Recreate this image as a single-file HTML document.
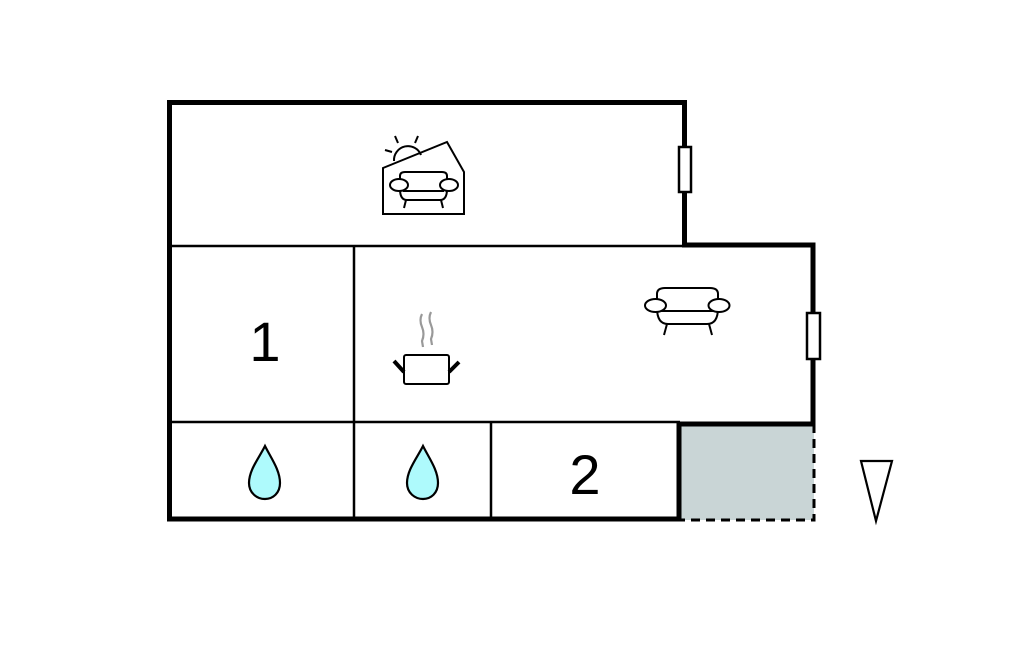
<!DOCTYPE html>
<html><head><meta charset="utf-8"><style>
html,body{margin:0;padding:0;background:#fff;}
svg{display:block;}
</style></head><body>
<svg width="1024" height="652" viewBox="0 0 1024 652" xmlns="http://www.w3.org/2000/svg">
<rect width="1024" height="652" fill="#fff"/>
<rect x="681" y="424" width="133" height="96" fill="#c9d5d6"/>
<path d="M814 424 V520 H681" fill="none" stroke="#000" stroke-width="3" stroke-dasharray="9,6"/>
<g stroke="#000" stroke-width="2.5" fill="none">
<line x1="169" y1="246" x2="684" y2="246"/>
<line x1="354" y1="246" x2="354" y2="519"/>
<line x1="169" y1="422" x2="680" y2="422"/>
<line x1="491" y1="422" x2="491" y2="519"/>
</g>
<path d="M169.5 519 V102.5 H684.5 V245 H813 V424 H679 V519 H167" fill="none" stroke="#000" stroke-width="5"/>
<line x1="679" y1="422" x2="679" y2="521.5" stroke="#000" stroke-width="5"/>
<line x1="167" y1="519" x2="681" y2="519" stroke="#000" stroke-width="5"/>
<rect x="679" y="147" width="12" height="45" fill="#fff" stroke="#000" stroke-width="2.5"/>
<rect x="807" y="313" width="13" height="46" fill="#fff" stroke="#000" stroke-width="2.5"/>
<text x="265" y="361" font-family="Liberation Sans, sans-serif" font-size="56" text-anchor="middle">1</text>
<text x="585" y="494" font-family="Liberation Sans, sans-serif" font-size="56" text-anchor="middle">2</text>
<g fill="#aefafc" stroke="#000" stroke-width="2.2">
<path d="M265 446 C259 458 249 470 249 483 C249 493 257 499 265 499 C273 499 280 493 280 483 C280 470 271 458 265 446 Z"/>
<path d="M423 446 C417 458 407 470 407 483 C407 493 415 499 423 499 C431 499 438 493 438 483 C438 470 429 458 423 446 Z"/>
</g>
<polygon points="861,461 892,461 876,521" fill="#fff" stroke="#000" stroke-width="2.2"/>
<g fill="#fff" stroke="#000" stroke-width="2">
<path d="M657 300 V294 Q657 288 665 288 H710 Q718 288 718 294 V300"/>
<path d="M657 308 Q657 324 668 324 H707 Q718 324 718 308"/>
<line x1="660" y1="311" x2="715" y2="311"/>
<ellipse cx="655.5" cy="305.5" rx="10.5" ry="6.5"/>
<ellipse cx="719" cy="305.5" rx="10.5" ry="6.5"/>
<line x1="667" y1="324" x2="664" y2="335"/>
<line x1="709" y1="324" x2="712" y2="335"/>
</g>
<g stroke="#000" fill="#fff">
<rect x="404" y="355" width="45" height="29" rx="2" stroke-width="2"/>
<line x1="394" y1="361" x2="404" y2="372" stroke-width="4"/>
<line x1="449" y1="372" x2="459" y2="362" stroke-width="4"/>
</g>
<g stroke="#999" stroke-width="2.2" fill="none">
<path d="M422 314 Q419 320 422 327 Q425 334 422 341 L423 347"/>
<path d="M431 312 Q428 318 431 325 Q434 332 431 339 L432 345"/>
</g>
<g fill="none" stroke="#000" stroke-width="2">
<path d="M394 161 A14 14 0 0 1 421 155"/>
<line x1="398" y1="143" x2="395" y2="136"/>
<line x1="415" y1="143" x2="418" y2="136"/>
<line x1="392" y1="152" x2="385" y2="150"/>
<path d="M383 168 L447 142 L464 172 V214 H383 Z"/>
<path d="M400 180 V176 Q400 172 405 172 H442 Q447 172 447 176 V180"/>
<path d="M400 189 Q400 200 407 200 H440 Q447 200 447 189"/>
<line x1="403" y1="191" x2="444" y2="191"/>
<ellipse cx="399" cy="185" rx="9" ry="6" fill="#fff"/>
<ellipse cx="449" cy="185" rx="9" ry="6" fill="#fff"/>
<line x1="406" y1="200" x2="404" y2="208"/>
<line x1="441" y1="200" x2="443" y2="208"/>
</g>
</svg>
</body></html>
